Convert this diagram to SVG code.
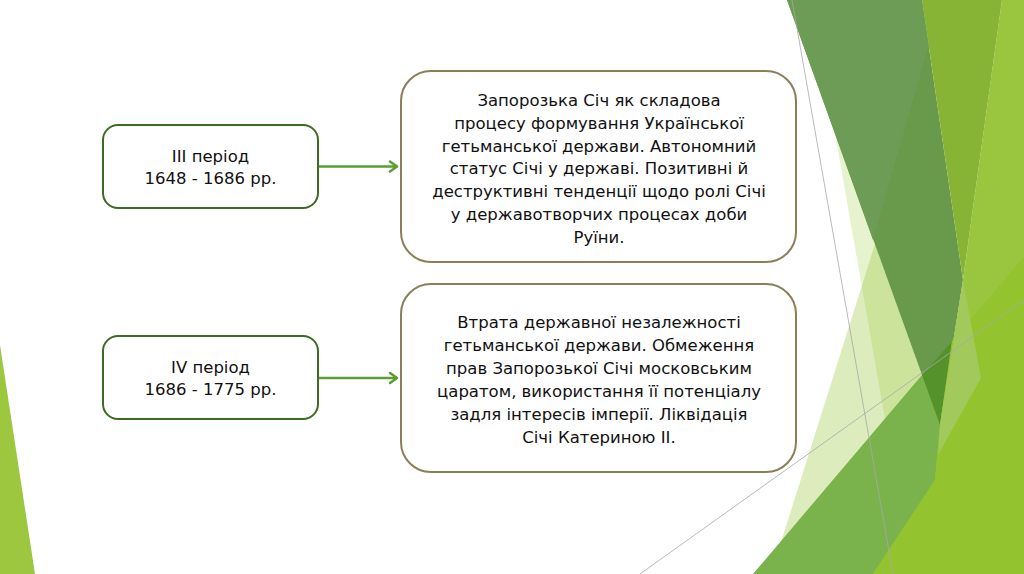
<svg xmlns="http://www.w3.org/2000/svg" width="1024" height="574" viewBox="0 0 1024 574">
  <defs>
    <style>
      .lbox { fill: #ffffff; stroke: #3d6b21; stroke-width: 2; }
      .rbox { fill: #ffffff; stroke: #8b7f57; stroke-width: 2; }
      .t { font-family: "DejaVu Sans", "Noto Sans", sans-serif; font-size: 16.5px; fill: #111111; text-anchor: middle; }
      .conn { stroke: #5b9e33; stroke-width: 2.6; fill: none; }
      .gl { stroke: #a9a9a9; stroke-width: 1; fill: none; opacity: 0.8; }
      .lt { fill: #90c226; }
    </style>
    <marker id="arr" markerUnits="userSpaceOnUse" markerWidth="14" markerHeight="14" refX="10" refY="6" orient="auto" viewBox="0 0 14 12">
      <path d="M3,1 L10,6 L3,11" fill="none" stroke="#5b9e33" stroke-width="2.6" stroke-linecap="round" stroke-linejoin="round"/>
    </marker>
  </defs>

  <rect x="0" y="0" width="1024" height="574" fill="#ffffff"/>

  <!-- background decoration -->
  <g id="background">
    <polygon class="lt" opacity="0.22" points="835,133 912,574 1024,574 1024,250 940,425"/>
    <polygon class="lt" opacity="0.31" points="875,244 771,574 1024,574 1024,250 940,425"/>
    <polygon fill="#69994a" points="787,0 922,0 963,280 940,425"/>
    <polygon fill="#6c9c55" points="787,0 922,0 929,45 873,240"/>
    <polygon fill="#7ab34b" points="753,574 922,375 952,341 1024,257 1024,574"/>
    <polygon fill="#55922b" points="922,375 952,341 940,425"/>
    <polygon fill="#99c53f" points="1002,0 1024,0 1024,574 873,574 935,480 940,425 963,280"/>
    <polygon fill="#93c42f" points="952,341 1024,257 1024,574 873,574 935,480 940,425"/>
    <polygon fill="#88b436" points="922,0 1002,0 963,280"/>
    <polygon fill="#a2c95b" points="963,280 981,378 938,455 940,425"/>
    <line class="gl" x1="792" y1="0" x2="893" y2="574"/>
    <line class="gl" x1="640" y1="574" x2="1024" y2="300"/>
    <polygon fill="#9dc73f" points="0,345 35,574 0,574"/>
  </g>

  <!-- connectors -->
  <g id="connectors">
    <line class="conn" x1="318" y1="166.5" x2="397" y2="166.5" marker-end="url(#arr)"/>
    <line class="conn" x1="318" y1="378" x2="397" y2="378" marker-end="url(#arr)"/>
  </g>

  <!-- nodes -->
  <g id="node-period3">
    <rect class="lbox" x="103" y="125" width="215" height="83" rx="15" ry="15"/>
    <text class="t" x="210.5" y="162">III період</text>
    <text class="t" x="210.5" y="184">1648 - 1686 рр.</text>
  </g>

  <g id="node-period4">
    <rect class="lbox" x="103" y="336" width="215" height="83" rx="15" ry="15"/>
    <text class="t" x="210.5" y="373">IV період</text>
    <text class="t" x="210.5" y="395">1686 - 1775 рр.</text>
  </g>

  <g id="node-desc3">
    <rect class="rbox" x="401" y="71" width="395" height="191" rx="30" ry="30"/>
    <text class="t" x="599" y="106">Запорозька Січ як складова</text>
    <text class="t" x="599" y="128.8">процесу формування Української</text>
    <text class="t" x="599" y="151.6">гетьманської держави. Автономний</text>
    <text class="t" x="599" y="174.4">статус Січі у державі. Позитивні й</text>
    <text class="t" x="599" y="197.2">деструктивні тенденції щодо ролі Січі</text>
    <text class="t" x="599" y="220">у державотворчих процесах доби</text>
    <text class="t" x="599" y="242.8">Руїни.</text>
  </g>

  <g id="node-desc4">
    <rect class="rbox" x="401" y="284" width="395" height="188" rx="30" ry="30"/>
    <text class="t" x="599" y="328">Втрата державної незалежності</text>
    <text class="t" x="599" y="351">гетьманської держави. Обмеження</text>
    <text class="t" x="599" y="374">прав Запорозької Січі московським</text>
    <text class="t" x="599" y="397">царатом, використання її потенціалу</text>
    <text class="t" x="599" y="420">задля інтересів імперії. Ліквідація</text>
    <text class="t" x="599" y="443">Січі Катериною II.</text>
  </g>
</svg>
